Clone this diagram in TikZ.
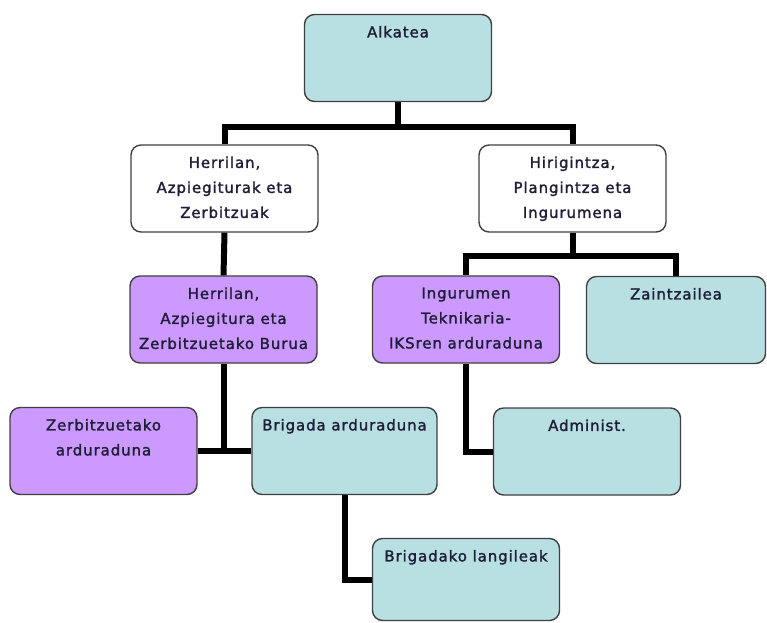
\documentclass[tikz,border=0pt]{standalone}
\usepackage{fontspec}
\setmainfont[LetterSpace=6,FakeBold=1.6]{DejaVu Sans}
\usepackage{xcolor}
\definecolor{tealfill}{HTML}{B8DFE2}
\definecolor{lilafill}{HTML}{CC99FF}
\definecolor{edgegray}{HTML}{404040}
\definecolor{inkdark}{HTML}{1E1E38}

\tikzset{
  orgbox/.style={draw=edgegray, line width=1.4pt, rounded corners=10pt,
    minimum width=187pt, minimum height=87pt, inner sep=0pt},
  tealbox/.style={orgbox, fill=tealfill},
  lilabox/.style={orgbox, fill=lilafill},
  whitebox/.style={orgbox, fill=white},
  toptext/.style={anchor=north, yshift=-12pt, align=center, text=inkdark,
    inner sep=0pt, font=\fontsize{15}{25}\selectfont},
  link/.style={line width=6pt, black}
}

\begin{document}
\begin{tikzpicture}[x=1pt,y=-1pt]
\useasboundingbox (0,0) rectangle (767,622);

% goiko mailak
\node[tealbox] (alkatea) at (398,58) {};
\node[toptext] at (alkatea.north) {Alkatea};

\node[whitebox] (herrilan) at (224.5,188.5) {};
\node[toptext] at (herrilan.north) {Herrilan,\\Azpiegiturak eta\\Zerbitzuak};
\node[whitebox] (hirigintza) at (572.5,188.5) {};
\node[toptext] at (hirigintza.north) {Hirigintza,\\Plangintza eta\\Ingurumena};

% erdiko maila
\node[lilabox] (burua) at (223.5,319.5) {};
\node[toptext] at (burua.north) {Herrilan,\\Azpiegitura eta\\Zerbitzuetako Burua};
\node[lilabox] (ingurumen) at (466,319.5) {};
\node[toptext] at (ingurumen.north) {Ingurumen\\Teknikaria-\\IKSren arduraduna};
\node[tealbox, minimum width=179pt] (zaintzailea) at (676,320) {};
\node[toptext] at (zaintzailea.north) {Zaintzailea};

% behekoak
\node[lilabox] (zerbitzu) at (103.5,451) {};
\node[toptext] at (zerbitzu.north) {Zerbitzuetako\\arduraduna};
\node[tealbox, minimum width=185pt] (brigada) at (344.5,451) {};
\node[toptext] at (brigada.north) {Brigada arduraduna};
\node[tealbox] (administ) at (587,451.5) {};
\node[toptext] at (administ.north) {Administ.};
\node[tealbox, minimum height=82pt] (langileak) at (466,579.5) {};
\node[toptext] at (langileak.north) {Brigadako langileak};

% loturak
\coordinate (bar1) at (398,127);
\coordinate (bar2) at (572.5,256);
\draw[link] (alkatea.south) -- (bar1);
\draw[link] (herrilan.north) |- (bar1) -| (hirigintza.north);
\draw[link] (herrilan.south) -- (burua.north);
\draw[link] (hirigintza.south) -- (bar2);
\draw[link] (ingurumen.north) |- (bar2) -| (zaintzailea.north);
\draw[link] (burua.south) -- (burua.south |- zerbitzu.east);
\draw[link] (zerbitzu.east) -- (brigada.west);
\draw[link] (ingurumen.south) |- (administ.west);
\draw[link] (brigada.south) |- (langileak.west);

\end{tikzpicture}
\end{document}
